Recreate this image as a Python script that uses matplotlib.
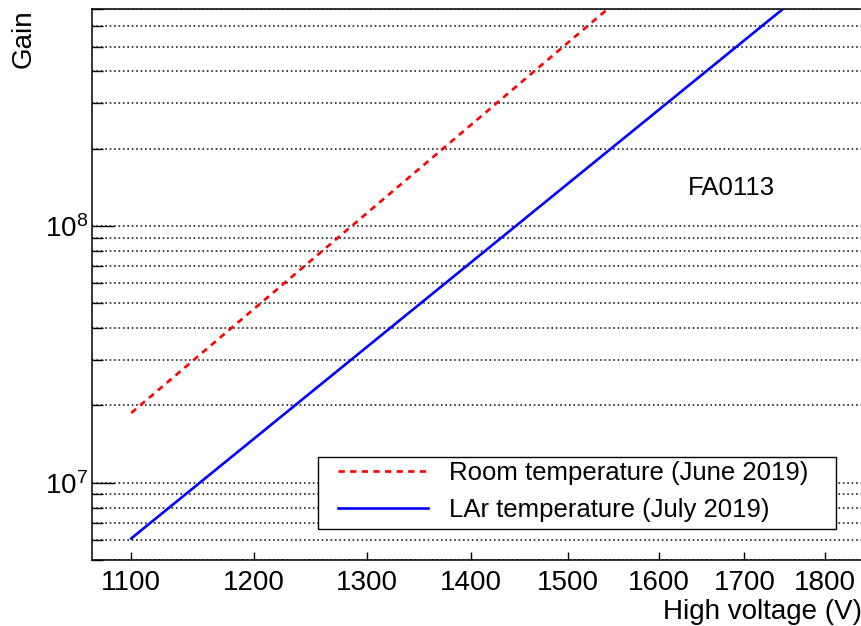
#!/usr/bin/env python3
"""
Gain vs high voltage, FA0113
"""

import matplotlib
matplotlib.use("Agg")
import matplotlib.pyplot as plt
import matplotlib.ticker as mticker
from matplotlib.patches import Rectangle

plt.rcParams['font.family'] = ['Liberation Sans', 'DejaVu Sans']
plt.rcParams['mathtext.fontset'] = 'custom'
plt.rcParams['mathtext.rm'] = 'Liberation Sans'
plt.rcParams['mathtext.it'] = 'Liberation Sans:italic'

# fitted gain curves (end points)
voltage_room = [1100, 1850]
gain_room = [1.87e7, 4.9e9]
voltage_lar = [1100, 1850]
gain_lar = [6.07e6, 1.26e9]

label_room = 'Room temperature (June 2019)'
label_lar = 'LAr temperature (July 2019)'
pmt_name = 'FA0113'
x_ticks = [1100, 1200, 1300, 1400, 1500, 1600, 1700, 1800]


fig = plt.figure(figsize=(8.62, 6.26), dpi=100)
ax = fig.add_axes([0.1071, 0.1054, 0.8929, 0.8802])

ax.set_xscale('log')
ax.set_yscale('log')
ax.set_xlim(1070, 1848)
ax.set_ylim(5e6, 7e8)

l1, = ax.plot(voltage_room, gain_room, color='#ff0000', lw=1.9,
			  linestyle=(0, (2.4, 2.0)))
l2, = ax.plot(voltage_lar, gain_lar, color='#0000ff', lw=1.9)

# axes / ticks
ax.xaxis.set_major_locator(mticker.FixedLocator(x_ticks))
ax.xaxis.set_major_formatter(mticker.FuncFormatter(lambda v, p: '%d' % v))
ax.xaxis.set_minor_locator(mticker.NullLocator())
ax.yaxis.set_major_locator(mticker.LogLocator(base=10))
ax.yaxis.set_minor_locator(mticker.LogLocator(base=10, subs=range(2, 10)))
ax.yaxis.set_minor_formatter(mticker.NullFormatter())

ax.tick_params(axis='x', which='major', direction='in', length=5.8, width=1,
			   labelsize=20, pad=7)
ax.tick_params(axis='y', which='major', direction='in', length=15.8, width=1,
			   labelsize=20, pad=3)
ax.tick_params(axis='y', which='minor', direction='in', length=7.9, width=1)
ax.spines['right'].set_visible(False)
for s in ['left', 'bottom', 'top']:
	ax.spines[s].set_linewidth(1.1)

ax.grid(True, axis='y', which='both', linestyle=':', color='#222222', lw=1.2)
ax.set_axisbelow(True)

ax.set_xlabel('High voltage (V)', fontsize=20, loc='right', labelpad=2)
ax.set_ylabel('Gain', fontsize=20, loc='top', labelpad=6)

ax.text(0.8307, 0.6624, pmt_name, transform=ax.transAxes, fontsize=18.5,
		ha='center', va='baseline')

# legend with a square frame
leg = ax.legend([l1, l2], [label_room, label_lar], loc='center left',
				bbox_to_anchor=(0.3196, 0.1243), frameon=False, fontsize=18.5,
				handlelength=3.5, handletextpad=0.8, labelspacing=0.5,
				borderpad=0, borderaxespad=0)
ax.add_patch(Rectangle((0.2936, 0.0563), 0.6726, 0.1301, transform=ax.transAxes,
					   facecolor='white', edgecolor='black', lw=1.0, zorder=4))
leg.set_zorder(5)

fig.savefig('out.png', dpi=100)
plt.close()
